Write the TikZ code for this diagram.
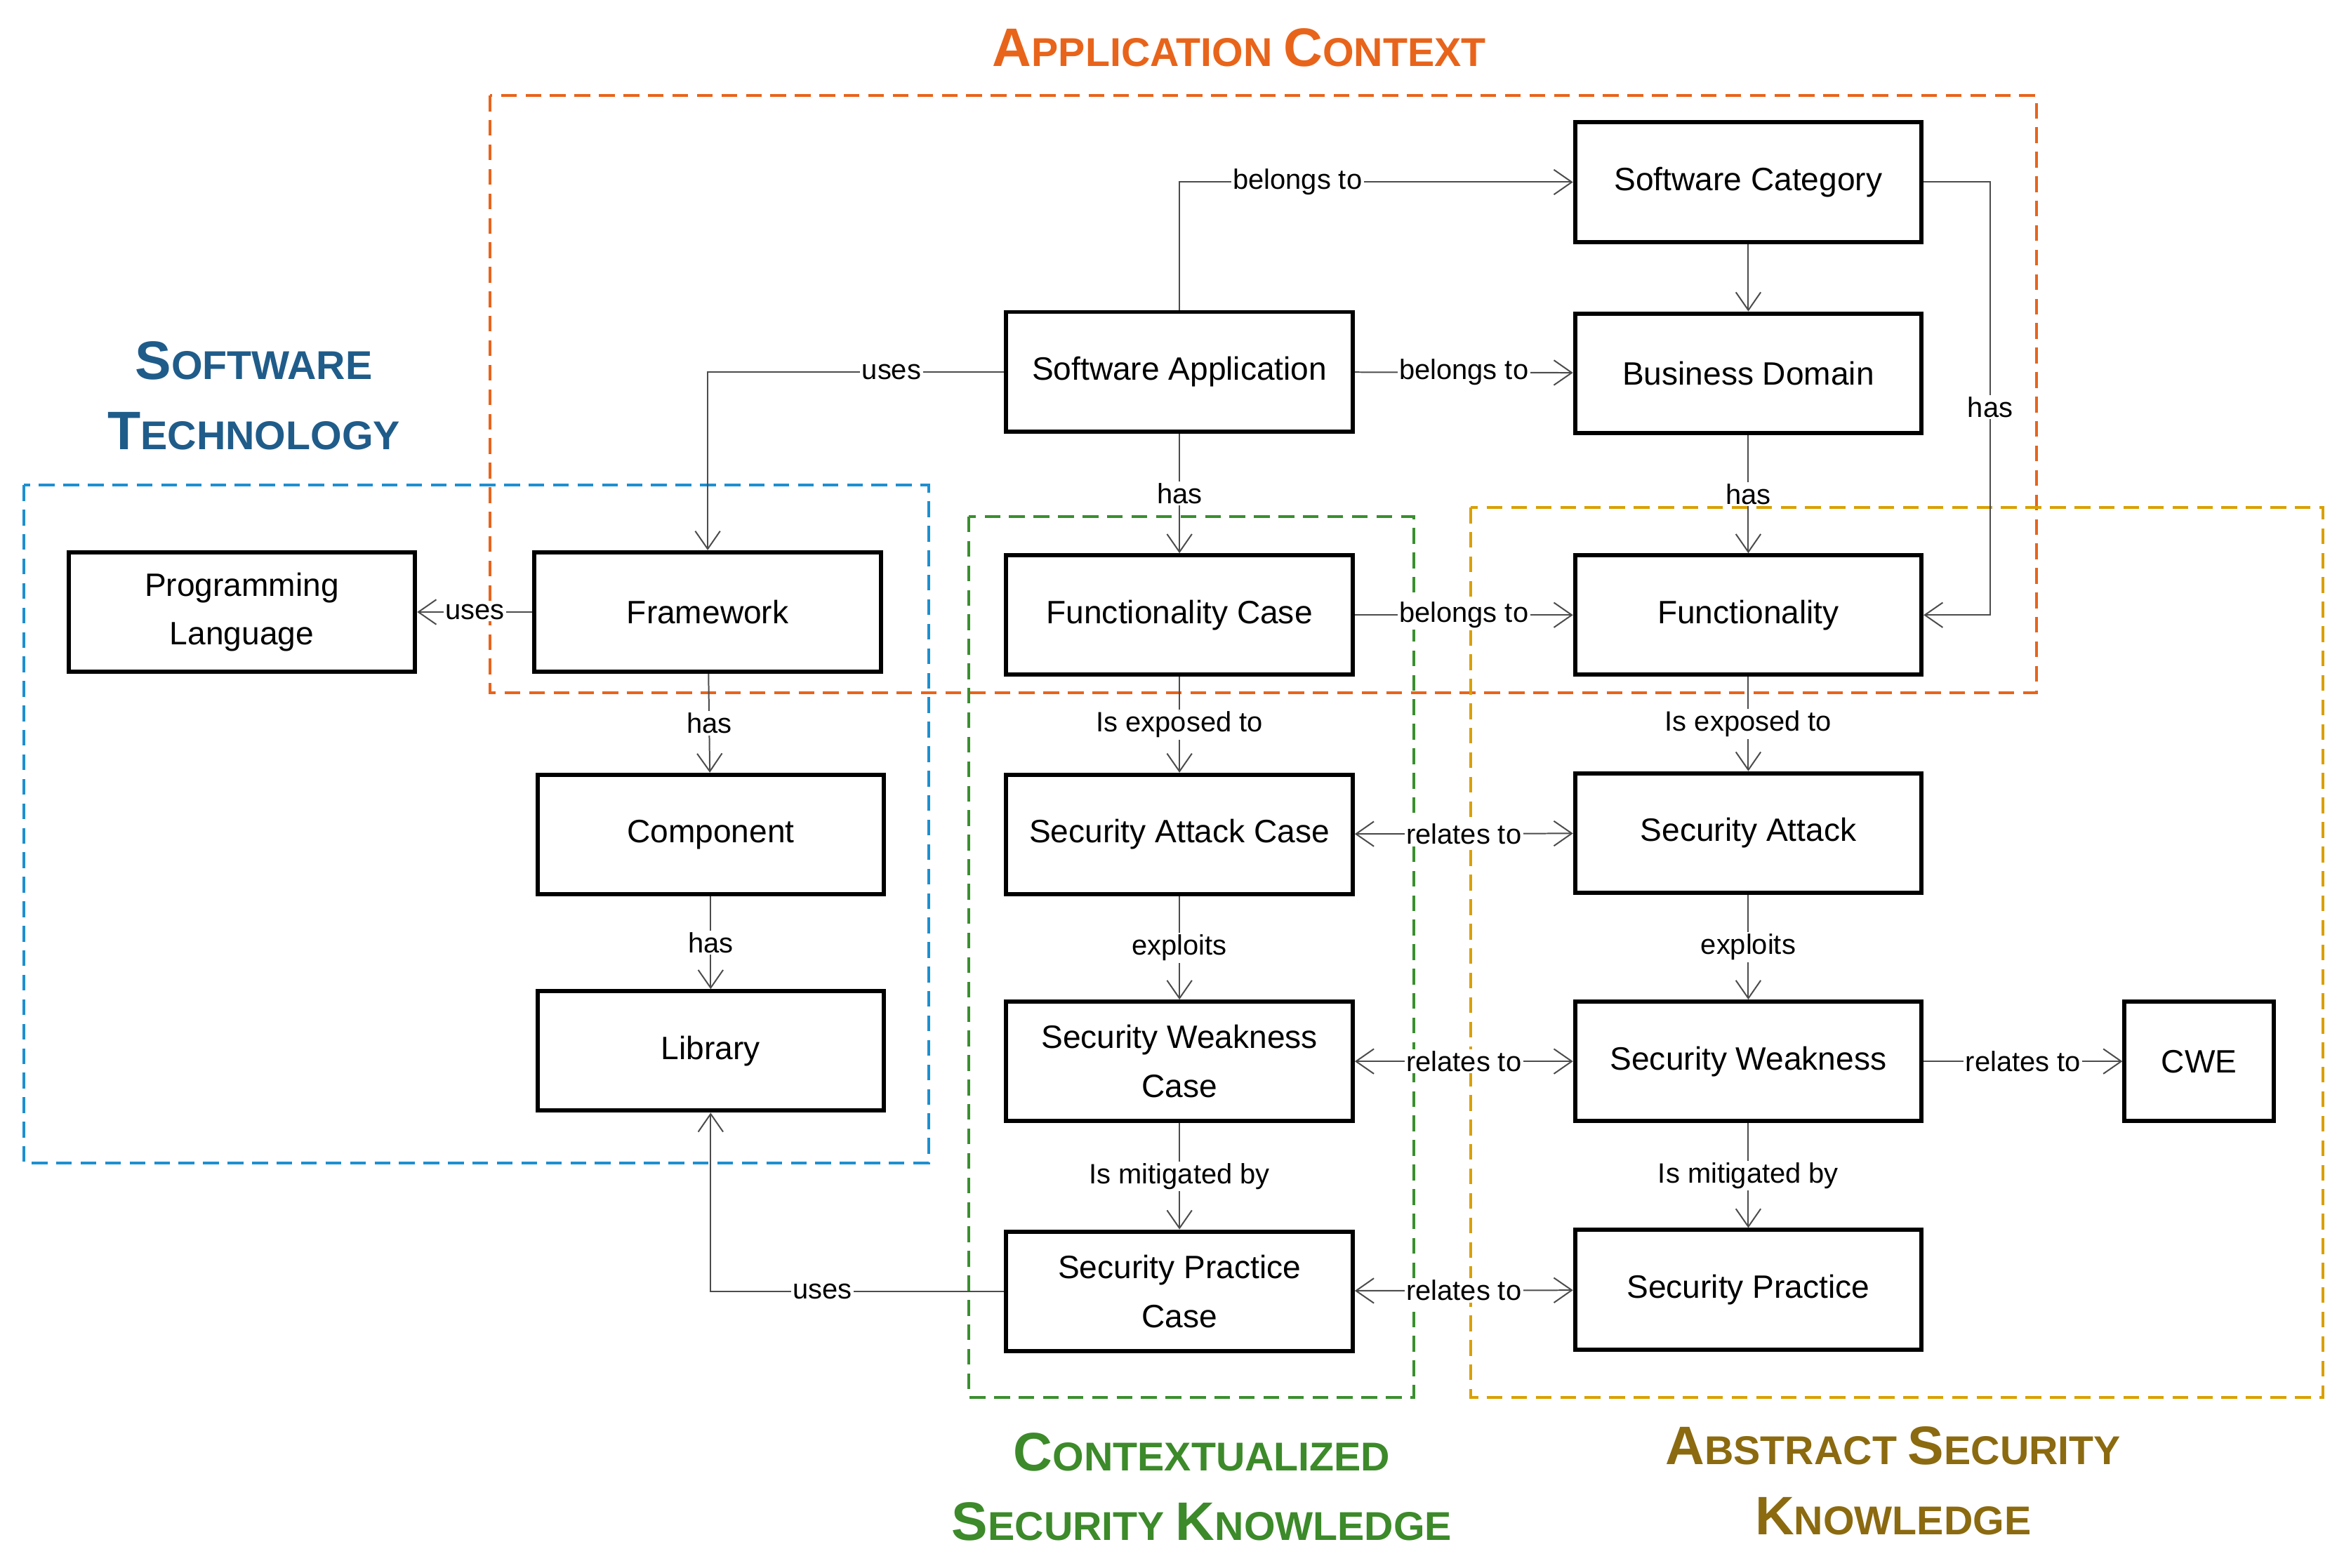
\documentclass[tikz,border=0pt]{standalone}
\usepackage{fontspec}
\setmainfont{Liberation Sans}
\usetikzlibrary{arrows.meta}
\definecolor{cOr}{HTML}{E8641B}
\definecolor{cBl}{HTML}{1E8FD0}
\definecolor{cGr}{HTML}{3A8F2E}
\definecolor{cGo}{HTML}{D9A000}
\definecolor{tBl}{HTML}{1F5C8A}
\definecolor{tGr}{HTML}{3C8A2A}
\definecolor{tGo}{HTML}{8B6A10}
\begin{document}
\begin{tikzpicture}[x=0.3mm,y=-0.3mm,
  box/.style={draw=black,line width=2.4pt,fill=white,minimum width=69.6mm,minimum height=24mm,align=center,font=\fontsize{18.5}{28}\selectfont},
  e/.style={draw=black!70,line width=0.8pt,-{Straight Barb[length=3.6mm,width=5mm]}},
  ee/.style={e,{Straight Barb[length=3.6mm,width=5mm]}-{Straight Barb[length=3.6mm,width=5mm]}},
  lb/.style={fill=white,inner sep=1pt,font=\fontsize{16}{18}\selectfont},
  grp/.style={dashed,line width=1.6pt,dash pattern=on 9pt off 5pt},
  ttl/.style={font=\bfseries\fontsize{23}{40}\selectfont,align=center}]
\useasboundingbox (0,0) rectangle (1570,1050);
% groups
\draw[grp,cOr] (328,64) rectangle (1364,464);
\draw[grp,cBl] (16,325) rectangle (622,779);
\draw[grp,cGr] (649,346) rectangle (947,936);
\draw[grp,cGo] (985,340) rectangle (1556,936);
% titles
\node[ttl,text=cOr] (t1) at (830,32) {{\fontsize{31}{31}\selectfont A}PPLICATION {\fontsize{31}{31}\selectfont C}ONTEXT};
\node[ttl,text=tBl] (t2) at (170,265) {{\fontsize{31}{31}\selectfont S}OFTWARE\\{\fontsize{31}{31}\selectfont T}ECHNOLOGY};
\node[ttl,text=tGr] (t3) at (805,996) {{\fontsize{31}{31}\selectfont C}ONTEXTUALIZED\\{\fontsize{31}{31}\selectfont S}ECURITY {\fontsize{31}{31}\selectfont K}NOWLEDGE};
\node[ttl,text=tGo] (t4) at (1268,992) {{\fontsize{31}{31}\selectfont A}BSTRACT {\fontsize{31}{31}\selectfont S}ECURITY\\{\fontsize{31}{31}\selectfont K}NOWLEDGE};
% nodes
\node[box] (sc) at (1171,122) {Software Category};
\node[box] (bd) at (1171,250) {Business Domain};
\node[box] (sa) at (790,249) {Software Application};
\node[box] (fc) at (790,412) {Functionality Case};
\node[box] (fu) at (1171,412) {Functionality};
\node[box] (fw) at (474,410) {Framework};
\node[box] (pl) at (162,410) {Programming\\Language};
\node[box] (co) at (476,559) {Component};
\node[box] (li) at (476,704) {Library};
\node[box] (sac) at (790,559) {Security Attack Case};
\node[box] (sat) at (1171,558) {Security Attack};
\node[box] (swc) at (790,711) {Security Weakness\\Case};
\node[box] (sw) at (1171,711) {Security Weakness};
\node[box,minimum width=30mm] (cwe) at (1473,711) {CWE};
\node[box] (spc) at (790,865) {Security Practice\\Case};
\node[box] (sp) at (1171,864) {Security Practice};
% edges
\draw[e] (sa.north) |- node[lb,pos=0.65]{belongs to} (sc.west);
\draw[e] (sc) -- (bd);
\draw[e] (sc.east) -- (1333,122) |- node[lb,pos=0.26]{has} (fu.east);
\draw[e] (sa) -- node[lb]{belongs to} (bd);
\draw[e] (sa.west) -| node[lb,pos=0.19]{uses} (fw.north);
\draw[e] (sa) -- node[lb]{has} (fc);
\draw[e] (bd) -- node[lb]{has} (fu);
\draw[e] (fc) -- node[lb]{belongs to} (fu);
\draw[e] (fw) -- node[lb]{uses} (pl);
\draw[e] (fw) -- node[lb]{has} (co);
\draw[e] (co) -- node[lb]{has} (li);
\draw[e] (fc) -- node[lb]{Is exposed to} (sac);
\draw[e] (fu) -- node[lb]{Is exposed to} (sat);
\draw[ee] (sac) -- node[lb]{relates to} (sat);
\draw[e] (sac) -- node[lb]{exploits} (swc);
\draw[e] (sat) -- node[lb]{exploits} (sw);
\draw[ee] (swc) -- node[lb]{relates to} (sw);
\draw[e] (sw) -- node[lb]{relates to} (cwe);
\draw[e] (swc) -- node[lb]{Is mitigated by} (spc);
\draw[e] (sw) -- node[lb]{Is mitigated by} (sp);
\draw[ee] (spc) -- node[lb]{relates to} (sp);
\draw[e] (spc.west) -| node[lb,pos=0.31]{uses} (li.south);
\end{tikzpicture}
\end{document}
